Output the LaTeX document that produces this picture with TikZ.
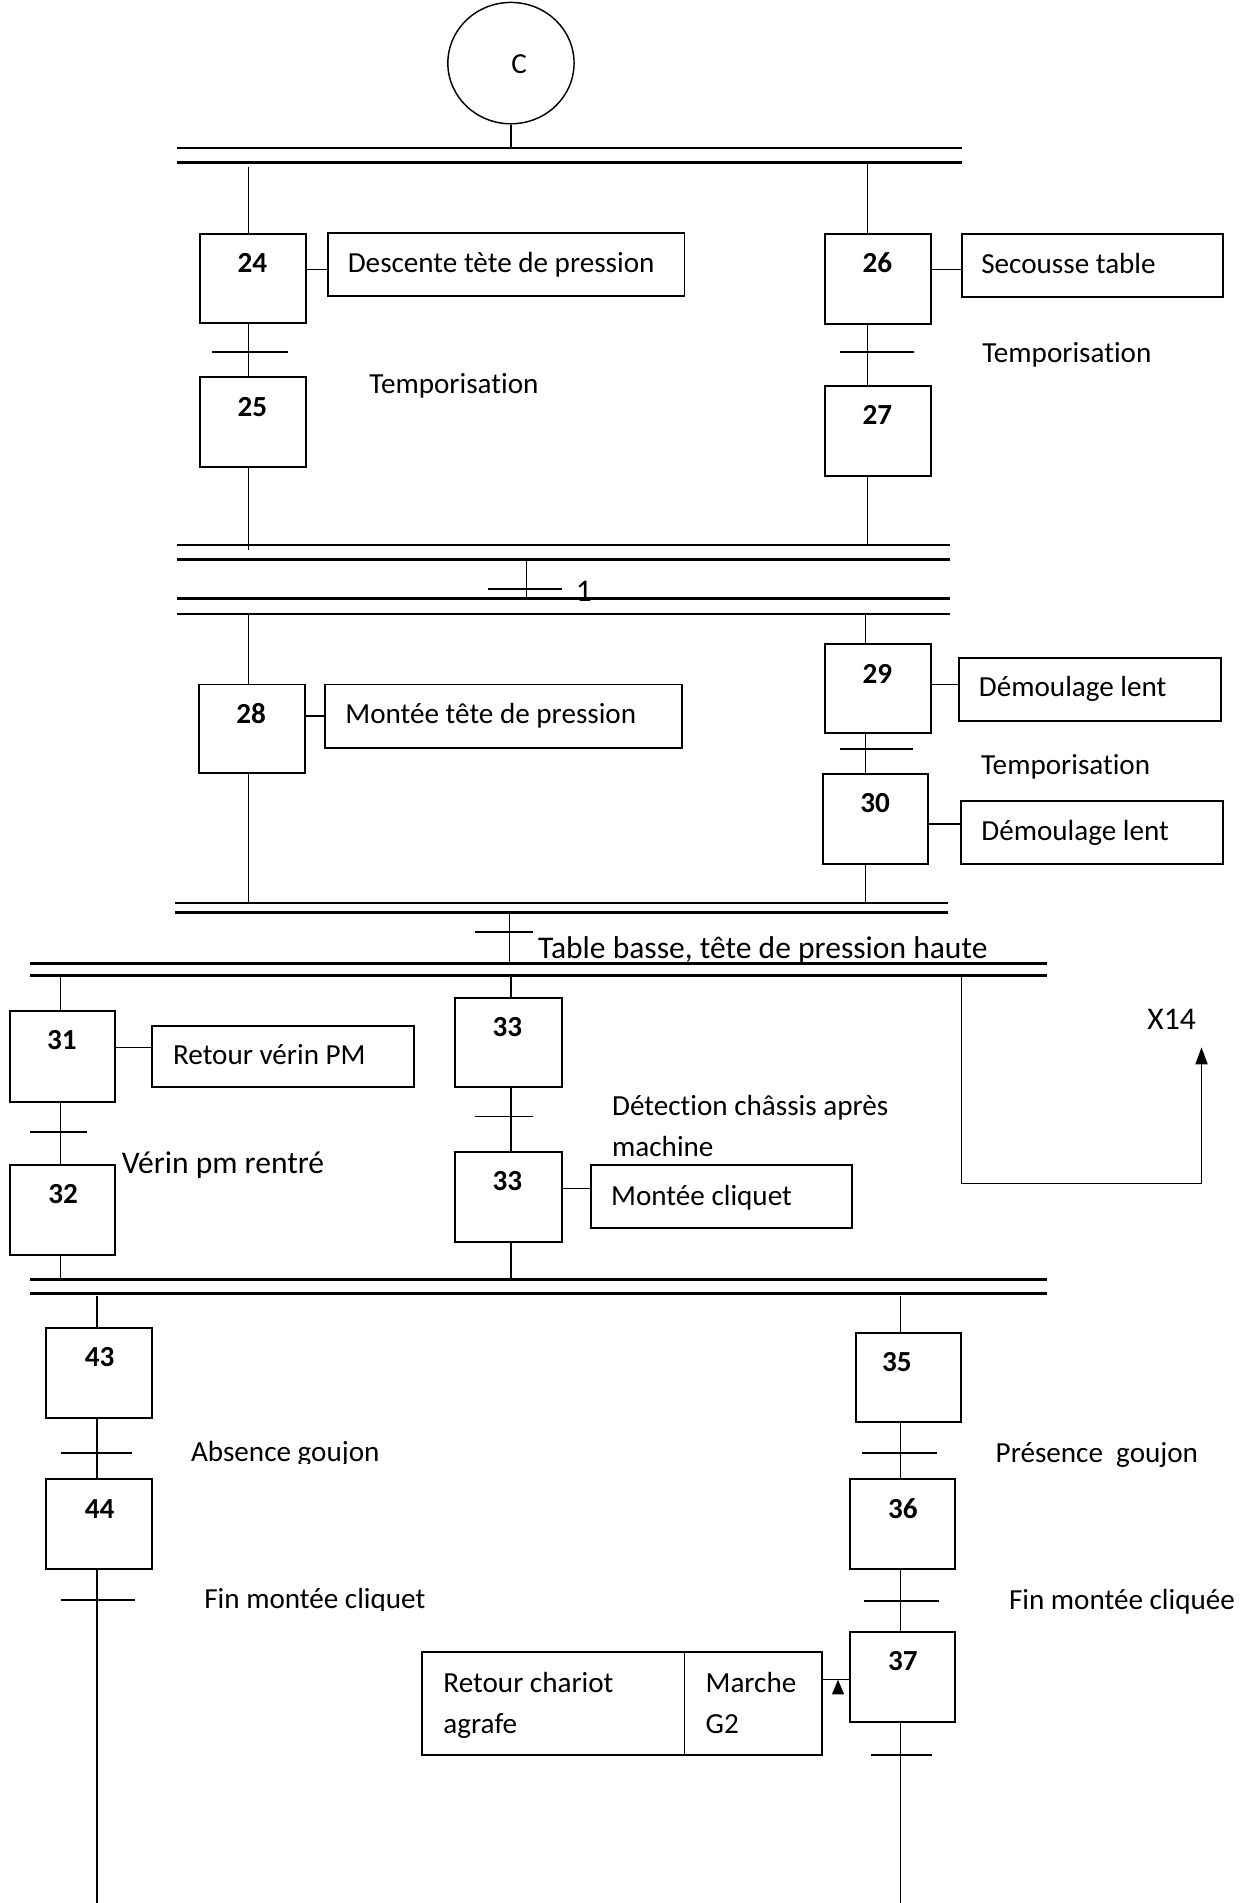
\documentclass[tikz,border=0pt]{standalone}
\usepackage{fontspec}
\setmainfont{Carlito}[Ligatures=NoCommon]
\usetikzlibrary{calc,arrows.meta,shapes.geometric}

% step box: name, x1, y1, x2, y2, number, x of number
\newcommand\etape[7]{%
  \node[stepbox, minimum width={(#4-#2)*0.5pt}, minimum height={(#5-#3)*0.5pt}]
    (#1) at ({(#2+#4)/2},{(#3+#5)/2}) {};
  \node[num] at (#7,#3+27) {#6};}
% action box: name, x1, y1, x2, y2
\newcommand\action[5]{%
  \node[actbox, minimum width={(#4-#2)*0.5pt}, minimum height={(#5-#3)*0.5pt}]
    (#1) at ({(#2+#4)/2},{(#3+#5)/2}) {};}

\begin{document}
\begin{tikzpicture}[x=0.5pt,y=-0.5pt,
  stepbox/.style={draw, line width=0.8pt, inner sep=0pt},
  actbox/.style={draw, line width=0.8pt, inner sep=0pt},
  num/.style={font=\bfseries\fontsize{12}{14}\selectfont, anchor=mid, inner sep=0pt},
  btxt/.style={font=\fontsize{12}{14}\selectfont, anchor=base west, inner sep=0pt},
  txt/.style={font=\fontsize{12}{14}\selectfont, anchor=mid west, inner sep=0pt, yshift=-1.75pt},
  bigtxt/.style={font=\fontsize{13}{15}\selectfont, anchor=mid west, inner sep=0pt, yshift=-1.75pt},
  bar/.style={line width=1.1pt},
  link/.style={line width=0.55pt},
  tick/.style={line width=0.75pt}]
\useasboundingbox (0,0) rectangle (1033,1568);

% ---------- initial step C and first parallel split ----------
\node[draw, ellipse, line width=0.6pt, minimum width=52pt, minimum height=50pt,
      inner sep=0pt] (C) at (421,52) {};
\node[txt] at (421,52) {C};
\coordinate (b1a) at (0,122); \coordinate (b1b) at (0,134);
\draw[bar] (146,122) -- (793,122);
\draw[bar] (146,134) -- (793,134);
\draw[link] (C.south) -- (C.south |- b1a);

\etape{s24}{165}{193}{252}{266}{24}{208}
\etape{s25}{165}{311}{252}{385}{25}{208}
\etape{s26}{680}{193}{767}{267}{26}{723}
\etape{s27}{680}{318}{767}{392}{27}{723}
\action{a24}{270}{192}{564}{244}
\action{a26}{793}{193}{1008}{245}
\node[txt] at ($(a24.west)+(17,-2)$) {Descente tète de pression};
\node[txt] at ($(a26.west)+(16,-2)$) {Secousse table};
\draw[link] (s24.east |- 0,222) -- (a24.west |- 0,222);
\draw[link] (s26.east |- 0,222) -- (a26.west |- 0,222);

\coordinate (xA) at (205,0); \coordinate (xB) at (715,0);
\draw[link] (xA |- 0,138) -- (s24.north -| xA);
\draw[link] (s24.south -| xA) -- (s25.north -| xA);
\draw[tick] (175,290) -- (237,290);
\node[txt] at (304,316) {Temporisation};
\draw[link] (xB |- b1b) -- (s26.north -| xB);
\draw[link] (s26.south -| xB) -- (s27.north -| xB);
\draw[tick] (692,290) -- (753,290);
\node[txt] at (809,290) {Temporisation};

% ---------- first convergence, transition 1, second split ----------
\coordinate (b2a) at (0,449); \coordinate (b2b) at (0,461);
\coordinate (b3a) at (0,493); \coordinate (b3b) at (0,506);
\draw[bar] (146,449) -- (783,449);
\draw[bar] (146,461) -- (783,461);
\draw[bar] (146,493) -- (783,493);
\draw[bar] (146,506) -- (783,506);
\draw[link] (s25.south -| xA) -- (xA |- 0,453);
\draw[link] (s27.south -| xB) -- (xB |- b2a);
\coordinate (x1) at (434,0);
\draw[link] (x1 |- b2b) -- (x1 |- b3a);
\draw[tick] (402,485) -- (463,485);
\node[bigtxt] at (474,487) {1};

\etape{s28}{164}{564}{251}{637}{28}{207}
\etape{s29}{680}{531}{767}{604}{29}{723}
\etape{s30}{678}{638}{765}{712}{30}{721}
\action{a28}{268}{564}{562}{616}
\action{a29}{790}{542}{1006}{594}
\action{a30}{792}{660}{1008}{712}
\node[txt] at ($(a28.west)+(17,-2)$) {Montée tête de pression};
\node[txt] at ($(a29.west)+(17,-2)$) {Démoulage lent};
\node[txt] at ($(a30.west)+(17,-2)$) {Démoulage lent};
\draw[link] (s28.east |- 0,590) -- (a28.west |- 0,590);
\draw[link] (s29.east |- 0,564) -- (a29.west |- 0,564);
\draw[link] (s30.east |- 0,679) -- (a30.west |- 0,679);

\coordinate (xC) at (713,0);
\draw[link] (xA |- b3b) -- (s28.north -| xA);
\draw[link] (xC |- b3b) -- (s29.north -| xC);
\draw[link] (s29.south -| xC) -- (s30.north -| xC);
\draw[tick] (692,617) -- (752,617);
\node[txt] at (808,630) {Temporisation};

% ---------- second convergence, transition, third split ----------
\coordinate (b4a) at (0,744); \coordinate (b4b) at (0,752);
\coordinate (b5a) at (0,794); \coordinate (b5b) at (0,804);
\draw[bar] (144,744) -- (781,744);
\draw[bar] (144,752) -- (781,752);
\draw[link] (s28.south -| xA) -- (xA |- b4a);
\draw[link] (s30.south -| xC) -- (xC |- b4a);
\coordinate (xT) at (420,0);
\draw[link] (xT |- b4b) -- (xT |- b5a);
\draw[tick] (391,768) -- (439,768);
\node[btxt, font=\fontsize{13}{15}\selectfont] at (443,790) {Table basse, tête de pression haute};
\draw[bar] (25,794) -- (863,794);
\draw[bar] (25,804) -- (863,804);

\etape{s31}{8}{833}{95}{908}{31}{51}
\etape{s32}{8}{960}{95}{1034}{32}{52}
\etape{s33a}{375}{822}{463}{896}{33}{418}
\etape{s33b}{375}{949}{463}{1023}{33}{418}
\action{a31}{125}{845}{341}{896}
\action{a33}{487}{960}{702}{1012}
\node[txt] at ($(a31.west)+(18,-2)$) {Retour vérin PM};
\node[txt] at ($(a33.west)+(17,-1)$) {Montée cliquet};
\draw[link] (s31.east |- 0,863) -- (a31.west |- 0,863);
\draw[link] (s33b.east |- 0,979) -- (a33.west |- 0,979);

\coordinate (xD) at (50,0); \coordinate (xE) at (421,0);
\draw[link] (xD |- b5b) -- (s31.north -| xD);
\draw[link] (s31.south -| xD) -- (s32.north -| xD);
\draw[tick] (25,933) -- (72,933);
\node[bigtxt] at (100,959) {Vérin pm rentré};
\draw[link] (xE |- b5b) -- (s33a.north -| xE);
\draw[link] (s33a.south -| xE) -- (s33b.north -| xE);
\draw[tick] (391,920) -- (439,920);
\node[txt] at (504,911) {Détection châssis après};
\node[txt] at (504,945) {machine};

% link to X14
\coordinate (xF) at (792,0);
\coordinate (x14) at (990,863);
\draw[link, -{Triangle[length=7pt,width=5pt]}] (xF |- b5b) |- (x14 |- 0,975) -- (x14);
\node[bigtxt] at (945,840) {X14};

% ---------- third convergence and last split ----------
\coordinate (b6a) at (0,1054); \coordinate (b6b) at (0,1066);
\draw[bar] (25,1054) -- (863,1054);
\draw[bar] (25,1066) -- (863,1066);
\draw[link] (s32.south -| xD) -- (xD |- b6a);
\draw[link] (s33b.south -| xE) -- (xE |- b6a);

\etape{s43}{38}{1094}{125}{1168}{43}{82}
\etape{s44}{38}{1219}{125}{1293}{44}{82}
\etape{s35}{705}{1098}{792}{1172}{35}{739}
\etape{s36}{700}{1219}{787}{1293}{36}{744}
\etape{s37}{700}{1345}{787}{1419}{37}{744}

\coordinate (xG) at (80,0); \coordinate (xH) at (742,0);
\draw[link] (xG |- 0,1068) -- (s43.north -| xG);
\draw[link] (s43.south -| xG) -- (s44.north -| xG);
\draw[tick] (50,1197) -- (109,1197);
\draw[link] (s44.south -| xG) -- (xG |- 0,1568);
\draw[tick] (50,1318) -- (111,1318);
\begin{scope}
  \clip (150,1170) rectangle (420,1206);
  \node[btxt] at (157,1204) {Absence goujon};
\end{scope}
\begin{scope}
  \clip (160,1290) rectangle (440,1327);
  \node[btxt] at (168,1325) {Fin montée cliquet};
\end{scope}

\draw[link] (xH |- 0,1068) -- (s35.north -| xH);
\draw[link] (s35.south -| xH) -- (s36.north -| xH);
\draw[tick] (710,1197) -- (772,1197);
\node[txt] at (820,1197) {Présence\ \ goujon};
\draw[link] (s36.south -| xH) -- (s37.north -| xH);
\draw[tick] (712,1319) -- (774,1319);
\node[txt] at (831,1318) {Fin montée cliquée};
\draw[link] (s37.south -| xH) -- (xH |- 0,1568);
\draw[tick] (718,1446) -- (768,1446);

% action of step 37
\action{a37a}{348}{1361}{564}{1446}
\action{a37b}{564}{1361}{677}{1446}
\node[txt] at (365,1386) {Retour chariot};
\node[txt] at (365,1420) {agrafe};
\node[txt] at (581,1386) {Marche};
\node[txt] at (581,1420) {G2};
\draw[link] (a37b.east |- 0,1384) -- (s37.west |- 0,1384);
\fill (685.5,1396) -- (695.5,1396) -- (690.5,1384) -- cycle;

\end{tikzpicture}
\end{document}
